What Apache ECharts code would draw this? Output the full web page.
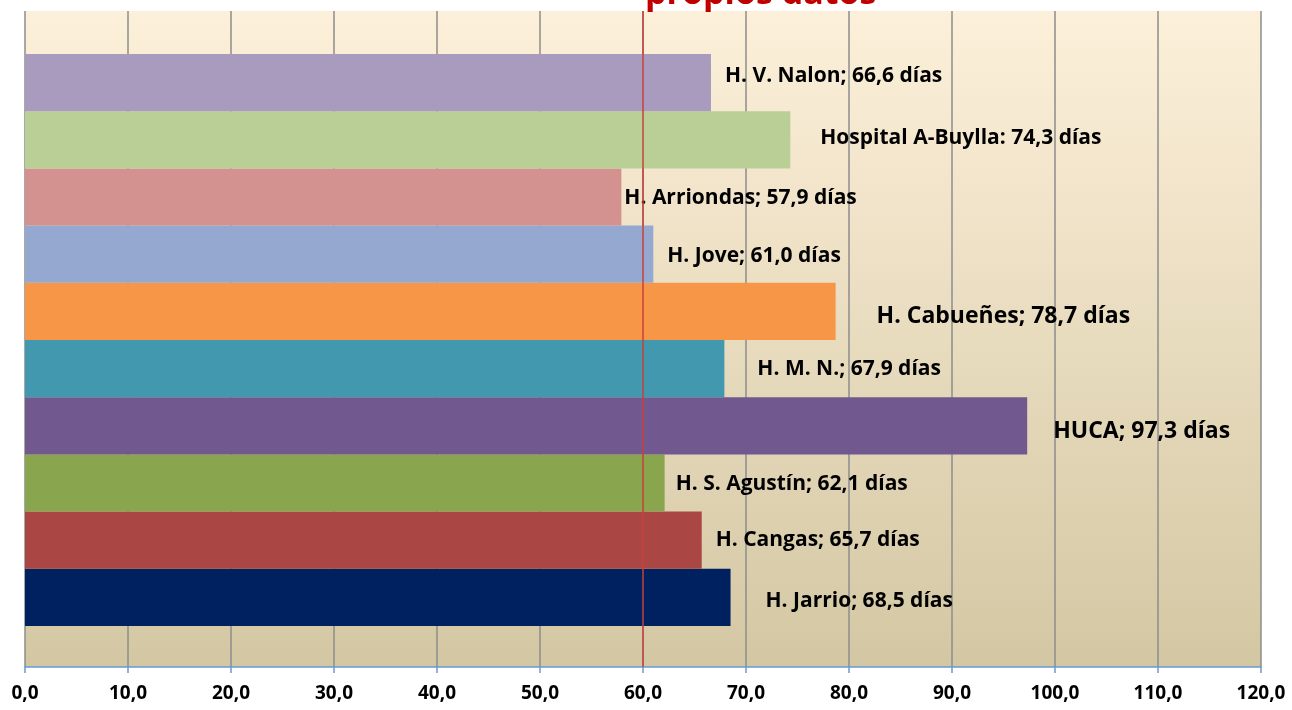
<!DOCTYPE html>
<html>
<head>
<meta charset="utf-8">
<script src="https://cdn.jsdelivr.net/npm/echarts@6/dist/echarts.min.js"></script>
<style>
  html, body { margin: 0; padding: 0; background: #fff; }
  #chart { width: 1292px; height: 710px; }
</style>
</head>
<body>
<!--grafico de barras horizontales: dias por hospital-->
<div id="chart"></div>
<script>
// categorias (de abajo a arriba, como en la hoja)
var hospitales = ['H. Jarrio;', 'H. Cangas;', 'H. S. Agustín;', 'HUCA;', 'H. M. N.;',
                  'H. Cabueñes;', 'H. Jove;', 'H. Arriondas;', 'Hospital A-Buylla:', 'H. V. Nalon;']
// dias
var dias = [68.5, 65.7, 62.1, 97.3, 67.9, 78.7, 61.0, 57.9, 74.3, 66.6]
var colores = ['#00215f', '#aa4644', '#89a54e', '#71588f', '#4198af',
               '#f79646', '#95a9d0', '#d39290', '#b9cf96', '#a99bbd']
// linea de referencia
var referencia = 60
var ejeMin = 0, ejeMax = 120, ejeIntervalo = 10

// desplazamiento de cada etiqueta [x, y] y tamaño de letra
var etiquetaOffset = [[35, 4], [14, 0], [11, 1], [26, 6], [33, 0],
                      [41, 5], [14, 2], [3, 1], [30, -2], [14, -7]]
var etiquetaSize = [21, 21, 21, 23, 21, 23, 21, 21, 21, 21]

var fuente = '"Open Sans", sans-serif'
var coma = function (v) { return v.toFixed(1).replace('.', ',') }

var chart = echarts.init(document.getElementById('chart'))

var barras = dias.map(function (v, i) {
  return {
    value: v,
    itemStyle: { color: colores[i] },
    label: { offset: etiquetaOffset[i], fontSize: etiquetaSize[i] }
  }
})

var option = {
  animation: false,
  textStyle: { fontFamily: fuente },
  title: {
    text: 'propios datos',
    left: 640,
    top: -28,
    textStyle: { color: '#c00000', fontSize: 34, fontWeight: 'bold', fontFamily: fuente }
  },
  grid: [
    // barras
    { left: 25, right: 31, top: 54, bottom: 84 },
    // area del grafico completa (fondo, rejilla, eje)
    {
      left: 25, right: 31, top: 11, bottom: 43, show: true, borderWidth: 0,
      backgroundColor: new echarts.graphic.LinearGradient(0, 0, 0, 1, [
        { offset: 0, color: '#fdf0da' },
        { offset: 1, color: '#d3c7a3' }
      ])
    }
  ],
  xAxis: [
    { gridIndex: 0, type: 'value', min: ejeMin, max: ejeMax, interval: ejeIntervalo, show: false },
    {
      gridIndex: 1, type: 'value', min: ejeMin, max: ejeMax, interval: ejeIntervalo,
      axisLine: { show: true, lineStyle: { color: '#6a9bd8', width: 1.5 } },
      axisTick: { show: true, length: 6, lineStyle: { color: '#6a9bd8', width: 1.5 } },
      axisLabel: {
        margin: 17, color: '#000', fontSize: 19, fontWeight: 'bold', fontFamily: fuente,
        formatter: function (v) { return coma(v) }
      },
      splitLine: { show: true, lineStyle: { color: '#8c8c8c', width: 1.5 } }
    }
  ],
  yAxis: [
    { gridIndex: 0, type: 'category', data: hospitales, show: false },
    { gridIndex: 1, type: 'value', min: 0, max: 1, show: false }
  ],
  series: [
    {
      type: 'bar',
      xAxisIndex: 0, yAxisIndex: 0,
      barCategoryGap: '0%',
      data: barras,
      label: {
        show: true,
        position: 'right',
        distance: 0,
        color: '#000',
        fontWeight: 'bold',
        fontFamily: fuente,
        formatter: function (p) { return p.name + ' ' + coma(p.value) + ' días' }
      },
      z: 3
    },
    {
      // linea roja en 60
      type: 'line',
      xAxisIndex: 1, yAxisIndex: 1,
      data: [[referencia, 0], [referencia, 1]],
      symbol: 'none',
      lineStyle: { color: '#c8403a', width: 1.5 },
      z: 5
    }
  ]
}
chart.setOption(option)
</script>
</body>
</html>
